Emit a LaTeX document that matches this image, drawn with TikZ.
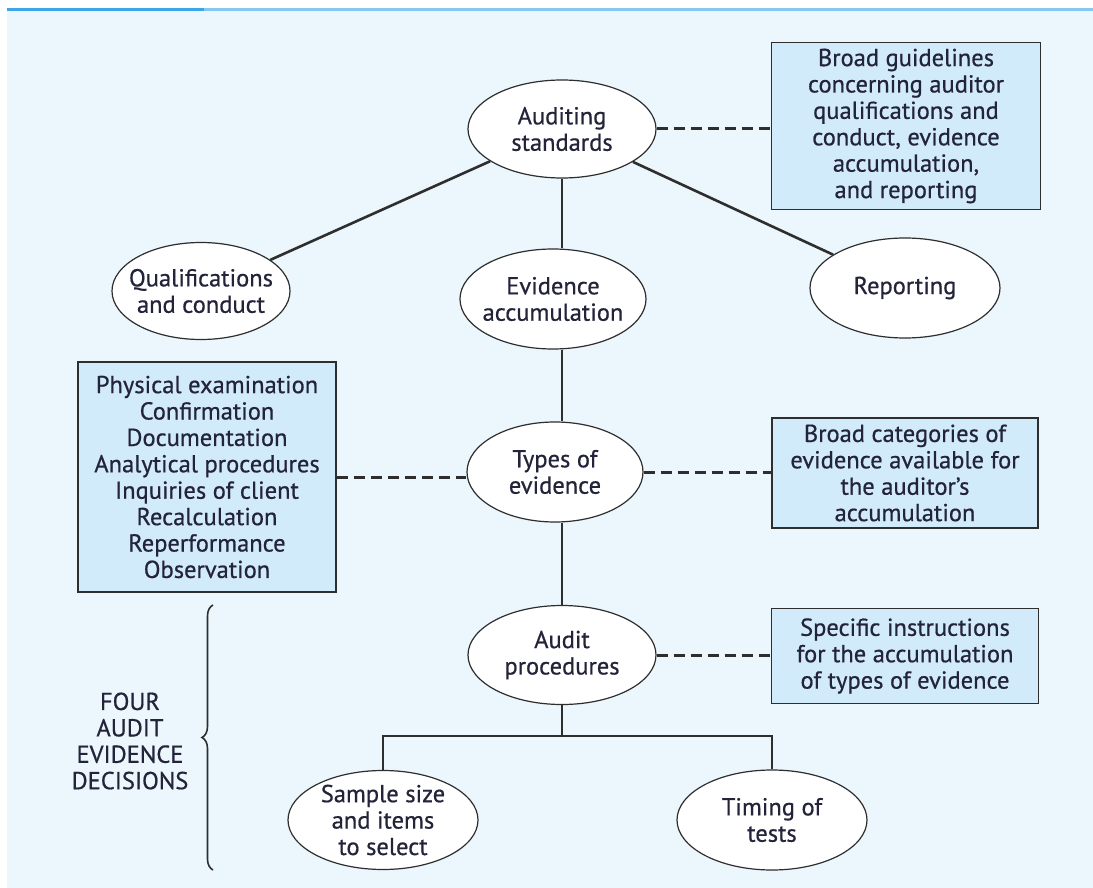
\documentclass[tikz,border=0pt]{standalone}
\usepackage{fontspec}
\setmainfont{PT Sans}[UprightFeatures={FakeBold=0.6}]
\usetikzlibrary{shapes.geometric,decorations.pathreplacing,calc}

\definecolor{pagebg}{HTML}{EBF6FD}
\definecolor{boxfill}{HTML}{D2EBFA}
\definecolor{inkline}{HTML}{2E2E2E}
\definecolor{inktext}{HTML}{23233A}
\definecolor{rulebar}{HTML}{3BA7E8}
\definecolor{rulelight}{HTML}{86C8F0}

\begin{document}
\begin{tikzpicture}[x=1pt, y=-1pt,
  every node/.style={font=\fontsize{24.5pt}{26.4pt}\selectfont, text=inktext},
  oval/.style={ellipse, draw=inkline, line width=1.2pt, fill=white, inner sep=-12pt, align=center},
  infobox/.style={rectangle, draw=inkline, line width=1.6pt, fill=boxfill, inner sep=0pt, align=center},
  link/.style={draw=inkline, line width=2.6pt},
  note/.style={draw=inkline, line width=3pt, dash pattern=on 11pt off 6pt}
]
  % Page and header rule
  \useasboundingbox (0,0) rectangle (1093,888);
  \fill[white] (0,0) rectangle (1093,888);
  \fill[pagebg] (7,10) rectangle (1093,888);
  \fill[rulebar] (7,8.5) rectangle (204,11);
  \fill[rulelight] (204,8.5) rectangle (1093,11);

  % Ovals
  \node[oval, minimum width=188pt, minimum height=98pt] (std) at (562,129) {Auditing\\standards};
  \node[oval, minimum width=178pt, minimum height=97pt] (qual) at (201,291) {Qualifications\\and conduct};
  \node[oval, minimum width=186pt, minimum height=100pt] (evid) at (553,299) {Evidence\\accumulation};
  \node[oval, minimum width=190pt, minimum height=100pt] (rep) at (905,288) {Reporting};
  \node[oval, minimum width=176pt, minimum height=100pt] (types) at (555,472) {Types of\\evidence};
  \node[oval, minimum width=188pt, minimum height=99pt] (proc) at (562,655) {Audit\\procedures};
  \node[oval, minimum width=190pt, minimum height=99pt] (sample) at (383,820) {Sample size\\and items\\to select};
  \node[oval, minimum width=190pt, minimum height=100pt] (timing) at (772,820) {Timing of\\tests};

  % Side boxes
  \node[infobox, minimum width=269pt, minimum height=167pt] (guide) at (906,126)
    {Broad guidelines\\concerning auditor\\qualifications and\\conduct, evidence\\accumulation,\\and reporting};
  \node[infobox, minimum width=258pt, minimum height=230pt] (kinds) at (207,477)
    {Physical examination\\Confirmation\\Documentation\\Analytical procedures\\Inquiries of client\\Recalculation\\Reperformance\\Observation};
  \node[infobox, minimum width=266pt, minimum height=110pt] (cats) at (905,473)
    {Broad categories of\\evidence available for\\the auditor's\\accumulation};
  \node[infobox, minimum width=267pt, minimum height=95pt] (instr) at (905,656)
    {Specific instructions\\for the accumulation\\of types of evidence};

  % Solid links
  \draw[link] (std) -- (qual);
  \draw[link] (std) -- (rep);
  \draw[link] (std.south) -- (std.south |- evid.north);
  \draw[link] (std.south |- evid.south) -- (std.south |- types.north);
  \draw[link] (std.south |- types.south) -- (proc.north);
  \coordinate (split) at ($(proc.south)+(0,31)$);
  \draw[link] (proc) -- (split);
  \draw[link] (sample.north) |- (split) -| (timing.north);

  % Dashed notes
  \draw[note] (std.east) -- (std.east -| guide.west);
  \draw[note] (kinds.east) -- (kinds.east -| types.west);
  \draw[note] (types.east) -- (types.east -| cats.west);
  \draw[note] (proc.east) -- (proc.east -| instr.west);

  % Brace and label
  \node[align=center] (decide) at (130,741) {FOUR\\AUDIT\\EVIDENCE\\DECISIONS};
  \draw[inkline, line width=1.6pt, decorate, decoration={brace, amplitude=11pt}] (213,870) -- (213,605);
\end{tikzpicture}
\end{document}
